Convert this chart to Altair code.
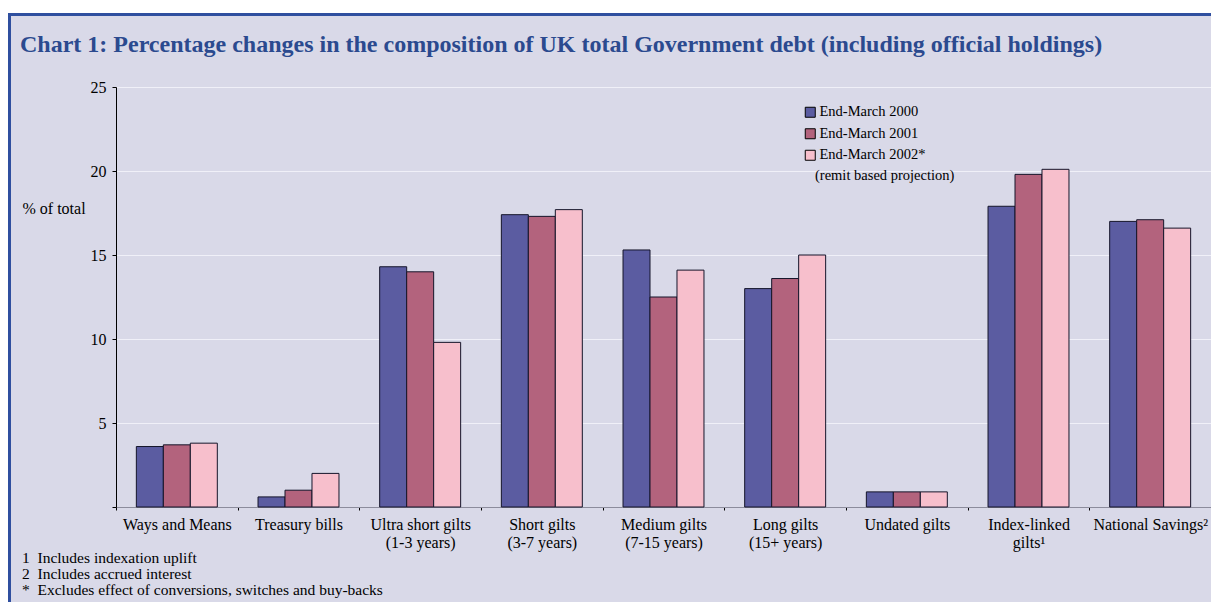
import altair as alt
import pandas as pd

# ---- data ----
categories = [
    "Ways and Means",
    "Treasury bills",
    "Ultra short gilts|(1-3 years)",
    "Short gilts|(3-7 years)",
    "Medium gilts|(7-15 years)",
    "Long gilts|(15+ years)",
    "Undated gilts",
    "Index-linked|gilts\u00b9",
    "National Savings\u00b2",
]
series = ["End-March 2000", "End-March 2001", "End-March 2002*"]
v2000 = [3.6, 0.6, 14.3, 17.4, 15.3, 13.0, 0.9, 17.9, 17.0]
v2001 = [3.7, 1.0, 14.0, 17.3, 12.5, 13.6, 0.9, 19.8, 17.1]
v2002 = [3.8, 2.0, 9.8, 17.7, 14.1, 15.0, 0.9, 20.1, 16.6]
y_ticks = [0, 5, 10, 15, 20, 25]

title_text = ("Chart 1: Percentage changes in the composition of UK total "
              "Government debt (including official holdings)")
legend_note = "(remit based projection)"
footnotes = [
    "1\u00a0\u00a0Includes indexation uplift",
    "2\u00a0\u00a0Includes accrued interest",
    "*\u00a0\u00a0Excludes effect of conversions, switches and buy-backs",
]

colors = ["#5b5ca1", "#b3637d", "#f7bfcc"]
BG = "#d9d9e8"
TITLE_C = "#2b4a8f"
BORDER_C = "#2f4f9f"
FONT = "Liberation Serif"

rows = []
for s, vals in zip(series, [v2000, v2001, v2002]):
    for c, v in zip(categories, vals):
        rows.append({"category": c, "series": s, "value": v})
df = pd.DataFrame(rows)

W, H = 1095, 420

bars = alt.Chart(df).mark_bar(stroke="#15152a", strokeWidth=1).encode(
    x=alt.X(
        "category:N", sort=categories,
        scale=alt.Scale(paddingInner=0, paddingOuter=0),
        axis=alt.Axis(
            title=None, labelExpr="split(datum.label, '|')", labelAngle=0,
            tickBand="extent", domainColor="#8c8c9c", tickColor="black",
            tickSize=3, labelPadding=6, labelFont=FONT, labelFontSize=16,
            labelColor="black", labelLineHeight=18, labelBaseline="top",
            grid=False,
        ),
    ),
    xOffset=alt.XOffset("series:N", sort=series,
                        scale=alt.Scale(paddingOuter=0.754, paddingInner=0)),
    y=alt.Y(
        "value:Q",
        scale=alt.Scale(domain=[0, 25], nice=False, zero=True),
        axis=alt.Axis(
            values=y_ticks, labelExpr="datum.value == 0 ? '' : datum.label",
            grid=True, gridColor="#f0f0f8", gridWidth=1,
            domainColor="black", tickColor="black", tickSize=4,
            labelPadding=6, labelFont=FONT, labelFontSize=16, labelColor="black",
            title="% of total", titleAngle=0, titleX=-94, titleY=121,
            titleAlign="left", titleBaseline="middle", titleFont=FONT,
            titleFontSize=16, titleFontWeight="normal", titleColor="black",
        ),
    ),
    color=alt.Color(
        "series:N", sort=series,
        scale=alt.Scale(domain=series, range=colors),
        legend=alt.Legend(
            title=None, orient="none", legendX=687, legendY=18, padding=0,
            symbolType="square", symbolSize=100, symbolStrokeColor="black",
            symbolStrokeWidth=1, symbolOpacity=1, labelFont=FONT,
            labelFontSize=14.5, labelColor="black", labelOffset=2,
            rowPadding=5.5,
        ),
    ),
)

one = pd.DataFrame({"k": [0]})

white_strip = alt.Chart(one).mark_rect(color="white").encode(
    x=alt.value(-108), x2=alt.value(W), y=alt.value(-79), y2=alt.value(-74)
)
top_border = alt.Chart(one).mark_rule(color=BORDER_C, strokeWidth=3).encode(
    x=alt.value(-108), x2=alt.value(W), y=alt.value(-72.5)
)
left_border = alt.Chart(one).mark_rule(color=BORDER_C, strokeWidth=3).encode(
    x=alt.value(-106.5), y=alt.value(-74), y2=alt.value(H + 95)
)

title = alt.Chart(pd.DataFrame({"t": [title_text]})).mark_text(
    align="left", baseline="alphabetic", font=FONT, fontSize=24,
    fontWeight="bold", color=TITLE_C,
).encode(x=alt.value(-96), y=alt.value(-35), text="t:N")

note = alt.Chart(pd.DataFrame({"t": [legend_note]})).mark_text(
    align="left", baseline="middle", font=FONT, fontSize=14.5, color="black",
).encode(x=alt.value(699), y=alt.value(89), text="t:N")

foot = alt.Chart(pd.DataFrame({"t": ["|".join(footnotes)]})).mark_text(
    align="left", baseline="alphabetic", font=FONT, fontSize=15.5,
    color="black", lineBreak="|", lineHeight=16,
).encode(x=alt.value(-94), y=alt.value(476), text="t:N")

chart = alt.layer(bars, white_strip, top_border, left_border, title, note, foot).properties(
    width=W, height=H,
    autosize=alt.AutoSizeParams(type="none"),
    padding={"left": 108, "top": 79, "right": 0, "bottom": 95},
    background=BG,
).configure_view(stroke=None)

chart.save("out.html", embed_options={"renderer": "svg", "actions": False})
